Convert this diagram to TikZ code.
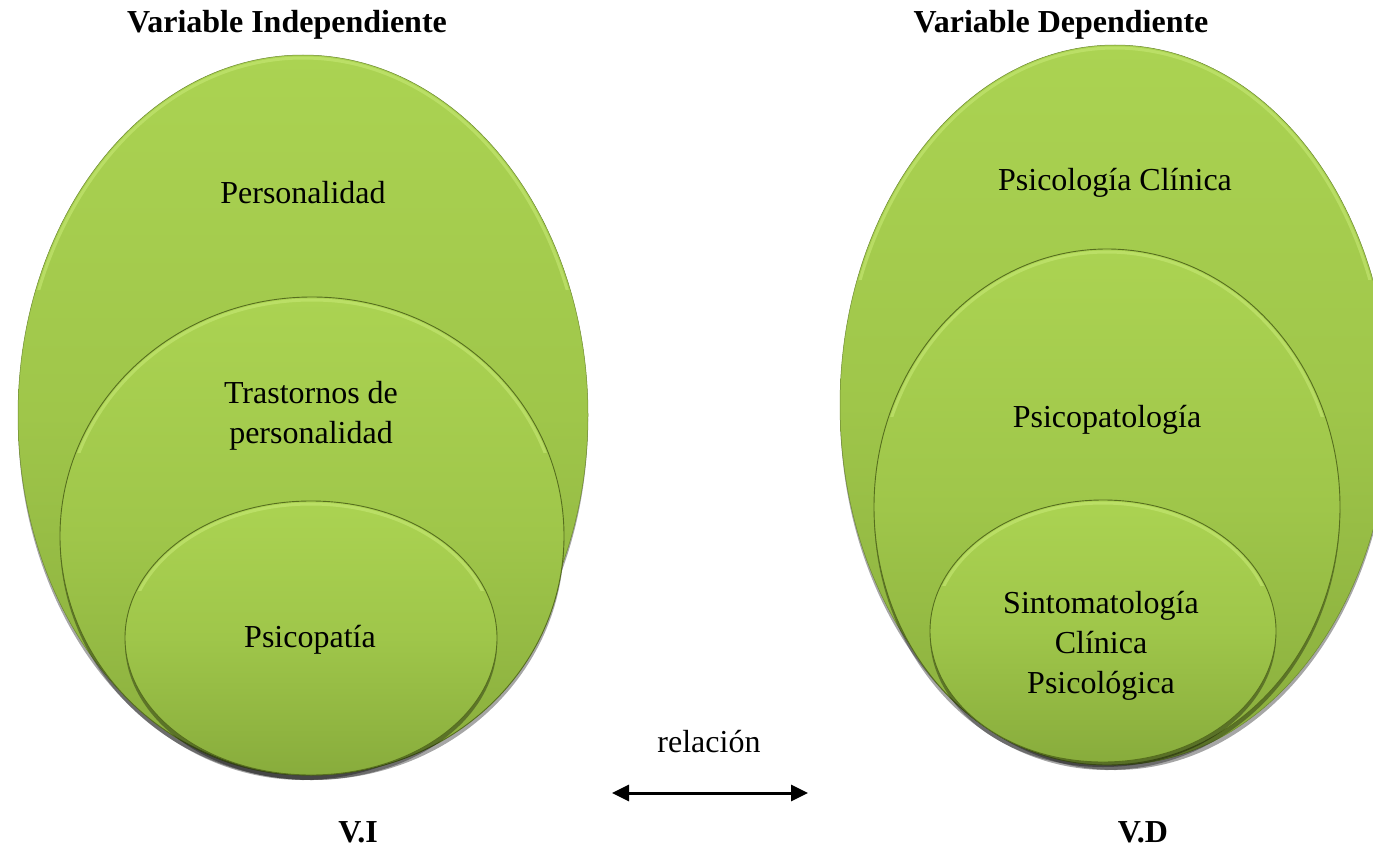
\documentclass[tikz,border=0pt]{standalone}
\usepackage{fontspec}
\setmainfont{Liberation Serif}
\usetikzlibrary{shapes.geometric,shadows,arrows.meta}

\definecolor{gtop}{HTML}{ABD352}
\definecolor{gmid}{HTML}{9FC64A}
\definecolor{gbot}{HTML}{88AC3C}
\definecolor{grim}{HTML}{566E1E}
\definecolor{glight}{HTML}{C6E874}

\tikzset{
  bubble/.style={ellipse, inner sep=0pt, outer sep=0pt,
    top color=gtop, bottom color=gbot, middle color=gmid,
    draw=grim, line width=0.9pt,
    drop shadow={shadow xshift=0pt, shadow yshift=-5pt, opacity=.35, fill=black}},
  outer/.style={bubble, draw=gbot!80!black, line width=0.5pt},
  rimlight/.style={glight, line width=3pt, opacity=.6},
  label/.style={font=\fontsize{32}{40}\selectfont, align=center, inner sep=0pt},
  title/.style={font=\fontsize{32}{40}\selectfont\bfseries, inner sep=0pt},
  rel/.style={<->, line width=3pt, >={Triangle[length=17pt,width=16pt]}}
}

\begin{document}
\begin{tikzpicture}[x=1pt,y=-1pt]
  \useasboundingbox (0,0) rectangle (1373,851);
  \clip (0,0) rectangle (1373,851);

  % titles
  \node[title] (tvi) at (287,25) {Variable Independiente};
  \node[title] (tvd) at (1061,25) {Variable Dependiente};

  % independent variable: nested ellipses
  \node[outer, minimum width=570pt, minimum height=720pt] (pers) at (303,415) {};
  \node[bubble, minimum width=504pt, minimum height=478pt] (trast) at (312,536) {};
  \node[bubble, minimum width=372pt, minimum height=274pt] (psico) at (311,638) {};

  % dependent variable: nested ellipses
  \node[outer, minimum width=550pt, minimum height=720pt] (clin) at (1115,405) {};
  \node[bubble, minimum width=466pt, minimum height=516pt] (pato) at (1107,507) {};
  \node[bubble, minimum width=346pt, minimum height=262pt] (sinto) at (1103,631) {};

  % light bevel along the upper edge of every ellipse
  \foreach \cx/\cy/\rx/\ry in {303/415/285/360, 312/536/252/239, 311/638/186/137,
                               1115/405/275/360, 1107/507/233/258, 1103/631/173/131}{
    \begin{scope}
      \clip (\cx-\rx-5,\cy-\ry-5) rectangle (\cx+\rx+5,\cy-0.35*\ry);
      \draw[rimlight] (\cx,\cy) ellipse [x radius=\rx-3, y radius=\ry-3];
    \end{scope}
  }

  \node[label] (tpers) at (303,193) {Personalidad};
  \node[label] (ttrast) at (311,416) {Trastornos de\\personalidad};
  \node[label] (tpsico) at (310,640) {Psicopatía};

  \node[label] (tclin) at (1115,183) {Psicología Clínica};
  \node[label] (tpato) at (1107,420) {Psicopatología};
  \node[label] (tsinto) at (1101,646) {Sintomatología\\Clínica\\Psicológica};

  % relation between the variables
  \node[label] (trel) at (709,742) {relación};
  \coordinate (ra) at (612,793);
  \coordinate (rb) at (808,793);
  \draw[rel] (ra) -- (rb);

  % variable tags
  \node[title] (vi) at (358,832) {V.I};
  \node[title] (vd) at (1143,832) {V.D};
\end{tikzpicture}
\end{document}
